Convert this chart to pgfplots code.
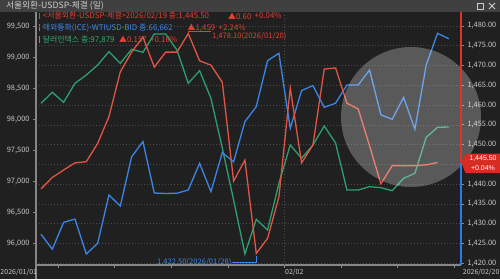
\documentclass[border=0pt]{standalone}
\usepackage{fontspec}
\setmainfont{Noto Sans CJK KR}
\newfontfamily\lib{Liberation Sans}
\usepackage{pgfplots}
\pgfplotsset{compat=1.18}
\definecolor{bg}{RGB}{32,32,32}
\definecolor{titlebg}{RGB}{64,64,64}
\definecolor{titletx}{RGB}{205,205,205}
\definecolor{gridc}{RGB}{74,74,74}
\definecolor{axisc}{RGB}{135,135,135}
\definecolor{tickc}{RGB}{200,200,200}
\definecolor{cred}{RGB}{228,84,68}
\definecolor{cgreen}{RGB}{44,160,110}
\definecolor{cblue}{RGB}{58,134,230}
\definecolor{tred}{RGB}{230,64,52}
\definecolor{tblue}{RGB}{62,136,240}
\definecolor{tgreen}{RGB}{50,175,115}
\definecolor{axred}{RGB}{222,52,40}
\definecolor{axblue}{RGB}{42,122,232}
\definecolor{boxred}{RGB}{214,44,34}
\pgfplotsset{
  base/.style={
    at={(36pt,14pt)}, anchor=south west, scale only axis,
    width=425pt, height=252pt,
    xmin=-0.44, xmax=37.07,
  },
  tl/.style={font=\fontsize{7.4}{8}\selectfont, text=tickc},
}
\begin{document}
\begin{tikzpicture}
\useasboundingbox (0,0) rectangle (500pt,279pt);
\fill[bg] (0,0) rectangle (500pt,279pt);
\begin{scope}[x=1pt,y=-1pt,yshift=279pt]
  \fill[titlebg] (0,0) rectangle (500,12);
  \node[anchor=west,inner sep=0,text=titletx,font=\fontsize{8.7}{9}\selectfont] at (6,6) {서울외환-USDSP-체결 (일)};
  \draw[titletx,line width=0.7pt] (477.5,3) rectangle (483.5,9);
  \draw[titletx,line width=0.8pt] (489,3) -- (495,9) (489,9) -- (495,3);
  % legend
  \fill[tred] (38.5,12.8) rectangle (40.3,19.3);
  \fill[tblue] (38.5,24.3) rectangle (40.3,30.8);
  \fill[tgreen] (38.5,36.3) rectangle (40.3,42.8);
  \begin{scope}[every node/.style={anchor=west,inner sep=0,font=\fontsize{7.9}{9}\selectfont}]
    \node[text=tred] at (42.7,16) {<서울외환-USDSP-체결>2026/02/19 종:1,445.50};
    \node[text=tred] at (228,16) {▲0.60};
    \node[text=tred] at (254.5,16) {+0.04\%};
    \node[text=tblue] at (42.7,27.6) {해외통화(ICE)-WTIUSD-BID 종:66,662};
    \node[text=tred] at (187.5,27.6) {▲1,459};
    \node[text=tred] at (218.5,27.6) {+2.24\%};
    \node[text=tgreen] at (42.7,39.5) {달러인덱스 종:97,879};
    \node[text=tred] at (119,39.5) {▲0.157};
    \node[text=tred] at (150,39.5) {+0.16\%};
  \end{scope}
\end{scope}

% grid + right scale
\begin{axis}[base,
  ymin=1419.57, ymax=1483.29,
  axis x line*=bottom, axis y line*=right,
  x axis line style={draw=axisc, line width=1.2pt, -},
  y axis line style={draw=none},
  ytick={1420,1425,1430,1435,1440,1450,1455,1460,1465,1470,1475,1480},
  extra y ticks={1445}, extra y tick labels={},
  extra y tick style={grid=major},
  yticklabel style={tl, /pgf/number format/.cd, fixed, fixed zerofill, precision=2, 1000 sep={,}},
  /pgf/number format/assume math mode=true,
  ymajorgrids, grid style={gridc, dash pattern=on 1pt off 2pt, line width=0.6pt},
  xtick={1.5,6.5,...,36.5}, xticklabels={},
  tick align=outside, major tick length=3pt,
  tick style={axisc, line width=0.8pt},
]
\draw[gridc, dash pattern=on 1pt off 2pt, line width=0.6pt] (axis cs:21.5,1419.57) -- (axis cs:21.5,1483.29);
\end{axis}

% left scale: dollar index
\begin{axis}[base,
  ymin=95.649, ymax=99.721,
  axis x line=none, axis y line*=left,
  y axis line style={draw=axisc, line width=1.2pt, -},
  ytick={96,96.5,97,97.5,98,98.5,99,99.5},
  yticklabel style={tl, /pgf/number format/.cd, fixed, fixed zerofill, precision=3, use comma, 1000 sep={}},
  /pgf/number format/assume math mode=true,
  tick align=outside, major tick length=3pt,
  tick style={axisc, line width=0.8pt},
]
\addplot[cgreen, line width=1.3pt] coordinates {
(0,98.262) (1,98.440) (2,98.278) (3,98.585) (4,98.719) (5,98.881) (6,99.096)
(7,98.908) (8,99.135) (9,99.086) (10,99.382) (11,99.382) (12,99.123) (13,98.585)
(14,98.789) (15,98.343) (16,97.540) (17,96.700) (18,95.827) (19,96.388) (20,96.215)
(21,96.969) (22,97.588) (23,97.373) (24,97.588) (25,97.895) (26,97.621) (27,96.861)
(28,96.861) (29,96.915) (30,96.898) (31,96.850) (32,97.050) (33,97.131) (34,97.713)
(35,97.874) (36,97.879)};
\end{axis}

% WTI (own hidden scale)
\begin{axis}[base, hide axis, ymin=56.233, ymax=67.846]
\addplot[cblue, line width=1.3pt] coordinates {
(0,57.65) (1,56.96) (2,58.20) (3,58.35) (4,56.74) (5,57.23) (6,59.46) (7,58.95)
(8,61.22) (9,61.92) (10,59.55) (11,59.53) (12,59.54) (13,59.69) (14,60.92) (15,59.61)
(16,61.41) (17,60.99) (18,62.84) (19,63.53) (20,65.65) (21,65.99) (22,62.53) (23,64.27)
(24,64.50) (25,63.50) (26,63.69) (27,64.53) (28,64.53) (29,65.22) (30,63.15) (31,62.95)
(32,63.96) (33,62.49) (34,65.45) (35,66.91) (36,66.66)};
\end{axis}

% USD/KRW
\begin{axis}[base, hide axis, ymin=1419.57, ymax=1483.29]
\addplot[cred, line width=1.3pt] coordinates {
(0,1438.8) (1,1441.7) (2,1443.6) (3,1445.4) (4,1445.7) (5,1450.3) (6,1457.1)
(7,1468.4) (8,1473.4) (9,1477.2) (10,1469.6) (11,1473.4) (12,1473.4) (13,1478.1)
(14,1471.2) (15,1470.1) (16,1465.8) (17,1440.8) (18,1446.1) (19,1422.5) (20,1426.3)
(21,1436.8) (22,1464.3) (23,1445.4) (24,1449.9) (25,1469.1) (26,1469.4) (27,1460.5)
(28,1459.0) (29,1449.7) (30,1440.1) (31,1444.7) (32,1444.7) (33,1444.7) (34,1444.9)
(35,1445.5)};
\draw[tblue, line width=0.7pt] (axis cs:19,1422.5) ++(0pt,-2.5pt) -- ++(0pt,-6.5pt) -- ++(-24pt,0pt)
  node[anchor=east, inner sep=0.5pt, text=tblue, font=\fontsize{7.6}{8}\selectfont] {1,422.50(2026/01/28)};
\draw[tred, line width=0.7pt] (axis cs:13,1478.1) -- ++(0pt,2pt) -- ++(23pt,0pt)
  node[anchor=north west, inner sep=0.5pt, text=tred, font=\fontsize{7.6}{8}\selectfont] {1,478.10(2026/01/20)};
\end{axis}

\begin{scope}[x=1pt,y=-1pt,yshift=279pt]
  \fill[white, fill opacity=0.26] (411,117) circle (70);
  \draw[axisc, line width=1.2pt] (36,12) -- (36,279);
  \draw[axred, line width=1.8pt] (461,12) -- (461,163);
  \draw[axblue, line width=1.8pt] (461,163) -- (461,265);
  \fill[boxred] (461.5,163) -- (465.5,153.5) -- (500,153.5) -- (500,173) -- (465.5,173) -- cycle;
  \node[inner sep=0, text=white, font=\lib\fontsize{7}{8}\selectfont] at (483,158.6) {1,445.50};
  \node[inner sep=0, text=white, font=\lib\fontsize{7}{8}\selectfont] at (483,167.8) {+0.04\%};
  \begin{scope}[every node/.style={inner sep=0, text=tickc, font=\fontsize{7}{8}\selectfont}]
    \node[anchor=west] at (0.3,272) {2026/01/01};
    \node[anchor=west] at (285,272) {02/02};
    \node[anchor=east] at (499.7,272) {2026/02/20};
  \end{scope}
\end{scope}
\end{tikzpicture}
\end{document}
